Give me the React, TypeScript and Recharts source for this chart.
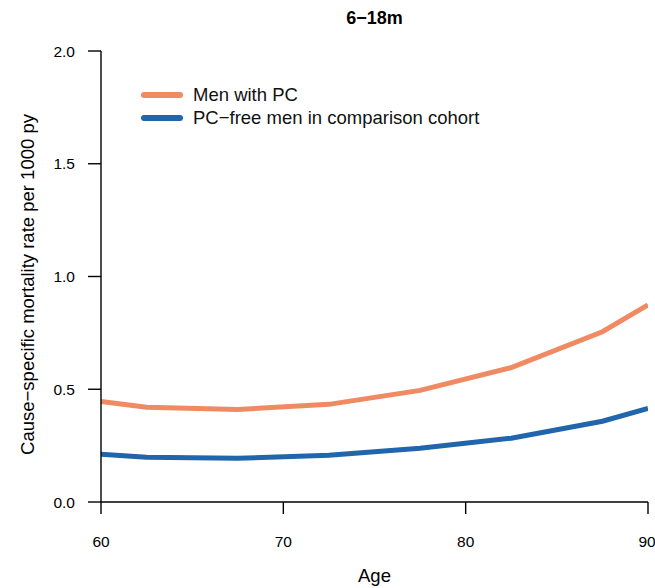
import { LineChart, Line, XAxis, YAxis, Label } from 'recharts';

// knot ages and rates
const ages = [60, 62.5, 67.5, 72.5, 77.5, 82.5, 87.5, 90];
const menWithPC = [0.446, 0.42, 0.41, 0.433, 0.495, 0.596, 0.755, 0.874];
const pcFreeMen = [0.212, 0.199, 0.194, 0.207, 0.238, 0.283, 0.358, 0.415];

const xTicks = [60, 70, 80, 90];
const yTicks = [0, 0.5, 1, 1.5, 2];

const seriesNames = ['Men with PC', 'PC\u2212free men in comparison cohort'];
const seriesColors = ['#EF8A62', '#2166AC'];
const yLabel = 'Cause\u2212specific mortality rate per 1000 py';
const title = '6\u221218m';

const data = ages.map((age, i) => ({ age, pc: menWithPC[i], free: pcFreeMen[i] }));

const FONT = '"Liberation Sans", Arial, Helvetica, sans-serif';
const TICK_FONT = 15.5;

function LegendBox() {
    return (
        <div style={{ position: 'absolute', left: 139, top: 83, fontFamily: FONT, fontSize: 18.5, color: '#111' }}>
            {seriesNames.map((name, i) => (
                <div key={name} style={{ display: 'flex', alignItems: 'center', height: 23 }}>
                    <svg width={46} height={10} style={{ marginRight: 8 }}>
                        <line x1={5} y1={5} x2={41} y2={5} stroke={seriesColors[i]} strokeWidth={6} strokeLinecap="round" />
                    </svg>
                    <span>{name}</span>
                </div>
            ))}
        </div>
    );
}

// tick labels drawn by hand so the font size sticks
function XTick(props: any) {
    const { x, y, payload } = props;
    return (
        <text x={x} y={y} textAnchor="middle" dominantBaseline="hanging" style={{ fontSize: TICK_FONT, fill: '#000', fontFamily: FONT }}>
            {payload.value}
        </text>
    );
}

function YTick(props: any) {
    const { x, y, payload } = props;
    return (
        <text x={x} y={y} textAnchor="end" dominantBaseline="central" style={{ fontSize: TICK_FONT, fill: '#000', fontFamily: FONT }}>
            {Number(payload.value).toFixed(1)}
        </text>
    );
}

// rotated y label, a little below the plot centre as in the reference
function YLabel(props: any) {
    const vb = props.viewBox || {};
    const cx = 27;
    const cy = (vb.y ?? 51) + (vb.height ?? 451) / 2 + 8;
    return (
        <text
            x={cx}
            y={cy}
            transform={`rotate(-90 ${cx} ${cy})`}
            textAnchor="middle"
            dominantBaseline="central"
            style={{ fontSize: 18.5, fill: '#000', fontFamily: FONT }}
        >
            {yLabel}
        </text>
    );
}

export default function App() {
    return (
        <div style={{ position: 'absolute', left: 0, top: 0, width: 655, height: 588, background: '#fff', fontFamily: FONT, overflow: 'hidden' }}>
            <div style={{ position: 'absolute', left: 101, width: 547, top: 8, textAlign: 'center', fontWeight: 'bold', fontSize: 18, color: '#000' }}>
                {title}
            </div>
            <LineChart width={655} height={588} data={data} margin={{ top: 51, right: 7, bottom: 0, left: 0 }}>
                <XAxis
                    dataKey="age"
                    type="number"
                    domain={[60, 90]}
                    ticks={xTicks}
                    height={86}
                    tickSize={12}
                    tickMargin={22}
                    stroke="#000"
                    strokeWidth={1.4}
                    tick={XTick}
                    allowDataOverflow
                >
                    <Label value="Age" position="insideBottom" offset={6} style={{ fontSize: 18.5, fill: '#000' }} />
                </XAxis>
                <YAxis
                    type="number"
                    domain={[0, 2]}
                    ticks={yTicks}
                    width={101}
                    tickSize={13}
                    tickMargin={13}
                    stroke="#000"
                    strokeWidth={1.4}
                    tick={YTick}
                >
                    <Label content={YLabel} />
                </YAxis>
                <Line dataKey="pc" name={seriesNames[0]} stroke={seriesColors[0]} strokeWidth={5} dot={false} isAnimationActive={false} />
                <Line dataKey="free" name={seriesNames[1]} stroke={seriesColors[1]} strokeWidth={5} dot={false} isAnimationActive={false} />
            </LineChart>
            <LegendBox />
        </div>
    );
}
